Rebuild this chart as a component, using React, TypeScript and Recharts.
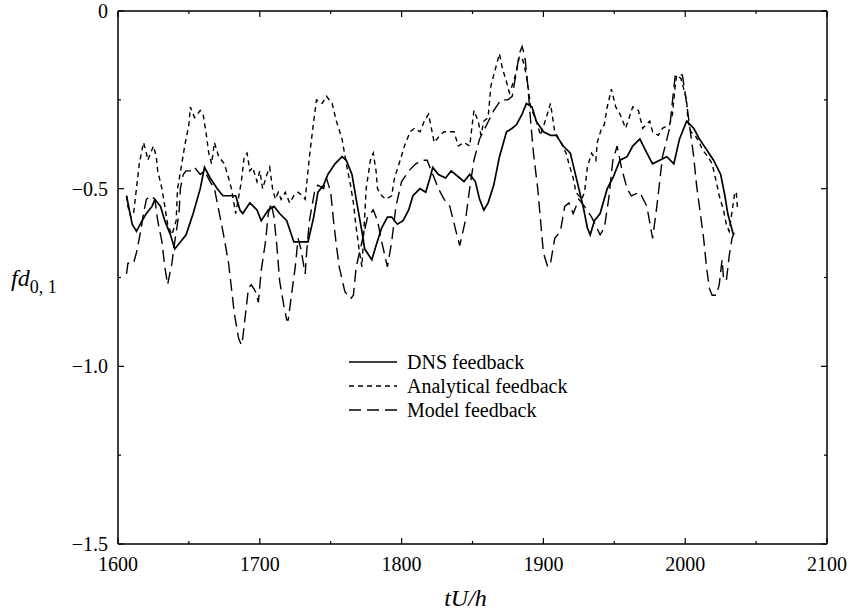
import { LineChart, Line, XAxis, YAxis, Label } from "recharts";

// feedback histories as [tU/h, fd_{0,1}] pairs
const dnsFeedback: [number, number][] = [
  [1606, -0.52], [1610, -0.6], [1613, -0.62], [1617, -0.59], [1620, -0.57], [1624, -0.55],
  [1626, -0.53], [1630, -0.55], [1633, -0.59], [1637, -0.63], [1640, -0.67], [1644, -0.65],
  [1648, -0.63], [1653, -0.57], [1658, -0.5], [1661, -0.44], [1665, -0.47], [1670, -0.5],
  [1674, -0.52], [1679, -0.52], [1683, -0.52], [1686, -0.56], [1688, -0.57], [1693, -0.54],
  [1698, -0.56], [1701, -0.59], [1706, -0.56], [1710, -0.55], [1714, -0.57], [1719, -0.59],
  [1724, -0.65], [1728, -0.65], [1734, -0.65], [1738, -0.58], [1741, -0.51], [1745, -0.49],
  [1748, -0.46], [1753, -0.43], [1758, -0.41], [1761, -0.42], [1765, -0.46], [1768, -0.53],
  [1772, -0.62], [1774, -0.67], [1779, -0.7], [1782, -0.66], [1786, -0.61], [1790, -0.58],
  [1793, -0.58], [1797, -0.6], [1801, -0.59], [1805, -0.56], [1808, -0.52], [1813, -0.5],
  [1817, -0.51], [1820, -0.47], [1822, -0.44], [1826, -0.46], [1831, -0.47], [1835, -0.45],
  [1841, -0.47], [1844, -0.48], [1848, -0.46], [1852, -0.48], [1855, -0.53], [1858, -0.56],
  [1861, -0.54], [1865, -0.49], [1869, -0.41], [1874, -0.34], [1878, -0.33], [1881, -0.32],
  [1885, -0.29], [1888, -0.26], [1892, -0.27], [1895, -0.31], [1900, -0.34], [1905, -0.35],
  [1909, -0.35], [1914, -0.38], [1919, -0.4], [1922, -0.45], [1925, -0.5], [1928, -0.55],
  [1931, -0.61], [1933, -0.63], [1936, -0.59], [1940, -0.57], [1945, -0.5], [1949, -0.47],
  [1954, -0.42], [1959, -0.41], [1963, -0.38], [1968, -0.36], [1973, -0.4], [1977, -0.43],
  [1982, -0.42], [1987, -0.41], [1992, -0.43], [1996, -0.36], [2001, -0.31], [2006, -0.33],
  [2010, -0.36], [2015, -0.39], [2020, -0.42], [2025, -0.46], [2028, -0.52], [2030, -0.57],
  [2034, -0.63],
];

const analyticalFeedback: [number, number][] = [
  [1606, -0.52], [1607, -0.55], [1609, -0.58], [1611, -0.57], [1613, -0.5], [1615, -0.43],
  [1618, -0.37], [1620, -0.4], [1621, -0.42], [1623, -0.4], [1625, -0.38], [1627, -0.41],
  [1628, -0.45], [1631, -0.5], [1633, -0.55], [1635, -0.6], [1638, -0.63], [1641, -0.59],
  [1642, -0.5], [1645, -0.43], [1647, -0.38], [1650, -0.32], [1651, -0.27], [1654, -0.3],
  [1658, -0.28], [1660, -0.29], [1662, -0.34], [1664, -0.4], [1666, -0.43], [1668, -0.37],
  [1671, -0.41], [1673, -0.42], [1675, -0.43], [1678, -0.47], [1680, -0.5], [1683, -0.57],
  [1687, -0.48], [1689, -0.41], [1691, -0.4], [1693, -0.45], [1695, -0.44], [1698, -0.48],
  [1700, -0.45], [1702, -0.5], [1705, -0.46], [1707, -0.44], [1709, -0.5], [1711, -0.53],
  [1713, -0.51], [1715, -0.53], [1718, -0.51], [1721, -0.54], [1724, -0.52], [1727, -0.51],
  [1730, -0.52], [1732, -0.53], [1735, -0.41], [1738, -0.31], [1740, -0.25], [1744, -0.26],
  [1747, -0.24], [1751, -0.26], [1754, -0.31], [1758, -0.36], [1761, -0.43], [1764, -0.49],
  [1766, -0.54], [1768, -0.61], [1770, -0.67], [1772, -0.72], [1773, -0.65], [1775, -0.5],
  [1778, -0.42], [1780, -0.4], [1782, -0.45], [1783, -0.5], [1786, -0.52], [1789, -0.53],
  [1793, -0.52], [1795, -0.47], [1799, -0.42], [1802, -0.38], [1806, -0.34], [1809, -0.33],
  [1813, -0.34], [1816, -0.31], [1819, -0.29], [1821, -0.33], [1823, -0.37], [1827, -0.35],
  [1830, -0.34], [1834, -0.34], [1837, -0.34], [1840, -0.38], [1844, -0.37], [1848, -0.38],
  [1851, -0.28], [1854, -0.31], [1856, -0.35], [1858, -0.31], [1861, -0.3], [1863, -0.21],
  [1867, -0.15], [1869, -0.12], [1871, -0.16], [1874, -0.2], [1876, -0.23], [1878, -0.21],
  [1881, -0.17], [1883, -0.13], [1885, -0.13], [1888, -0.18], [1891, -0.27], [1895, -0.31],
  [1898, -0.35], [1902, -0.3], [1905, -0.26], [1908, -0.34], [1911, -0.36], [1916, -0.4],
  [1918, -0.43], [1921, -0.47], [1923, -0.51], [1927, -0.53], [1929, -0.51], [1931, -0.44],
  [1934, -0.4], [1937, -0.42], [1938, -0.37], [1941, -0.33], [1943, -0.32], [1945, -0.27],
  [1948, -0.22], [1951, -0.27], [1954, -0.29], [1958, -0.33], [1963, -0.27], [1967, -0.28],
  [1970, -0.33], [1975, -0.31], [1977, -0.34], [1981, -0.35], [1984, -0.33], [1989, -0.32],
  [1991, -0.29], [1993, -0.21], [1994, -0.18], [1997, -0.19], [2001, -0.25], [2002, -0.31],
  [2004, -0.34], [2007, -0.35], [2010, -0.37], [2012, -0.39], [2016, -0.41], [2019, -0.43],
  [2023, -0.5], [2024, -0.52], [2027, -0.56], [2029, -0.6], [2031, -0.62], [2035, -0.51],
  [2036, -0.51], [2037, -0.56],
];

const modelFeedback: [number, number][] = [
  [1606, -0.74], [1607, -0.71], [1611, -0.71], [1613, -0.68], [1616, -0.62], [1618, -0.57],
  [1620, -0.53], [1623, -0.52], [1626, -0.53], [1628, -0.59], [1631, -0.65], [1633, -0.72],
  [1635, -0.77], [1638, -0.71], [1640, -0.65], [1643, -0.57], [1644, -0.5], [1646, -0.46],
  [1648, -0.45], [1652, -0.45], [1654, -0.44], [1658, -0.46], [1661, -0.45], [1665, -0.48],
  [1668, -0.5], [1674, -0.62], [1678, -0.71], [1680, -0.78], [1682, -0.85], [1685, -0.92],
  [1687, -0.94], [1688, -0.92], [1690, -0.85], [1692, -0.78], [1694, -0.77], [1697, -0.79],
  [1699, -0.82], [1701, -0.73], [1704, -0.65], [1706, -0.57], [1708, -0.54], [1710, -0.58],
  [1712, -0.66], [1714, -0.76], [1717, -0.83], [1719, -0.87], [1720, -0.87], [1722, -0.81],
  [1725, -0.72], [1727, -0.64], [1729, -0.67], [1732, -0.74], [1733, -0.68], [1735, -0.59],
  [1739, -0.5], [1741, -0.49], [1745, -0.5], [1747, -0.47], [1750, -0.51], [1752, -0.59],
  [1754, -0.66], [1756, -0.72], [1760, -0.79], [1764, -0.81], [1766, -0.8], [1768, -0.72],
  [1772, -0.65], [1776, -0.58], [1780, -0.56], [1783, -0.59], [1786, -0.65], [1790, -0.72],
  [1793, -0.65], [1796, -0.55], [1800, -0.48], [1805, -0.45], [1810, -0.43], [1815, -0.42],
  [1818, -0.42], [1821, -0.45], [1826, -0.5], [1830, -0.53], [1834, -0.55], [1839, -0.63],
  [1841, -0.66], [1845, -0.59], [1848, -0.5], [1851, -0.42], [1855, -0.36], [1860, -0.32],
  [1865, -0.28], [1870, -0.25], [1875, -0.25], [1878, -0.24], [1881, -0.17], [1883, -0.12],
  [1885, -0.1], [1887, -0.13], [1889, -0.21], [1891, -0.31], [1893, -0.4], [1896, -0.5],
  [1898, -0.59], [1900, -0.68], [1903, -0.72], [1905, -0.71], [1908, -0.64], [1912, -0.62],
  [1915, -0.55], [1918, -0.54], [1921, -0.57], [1925, -0.53], [1929, -0.55], [1934, -0.58],
  [1940, -0.63], [1943, -0.61], [1946, -0.53], [1949, -0.42], [1952, -0.38], [1955, -0.44],
  [1959, -0.5], [1962, -0.52], [1968, -0.51], [1973, -0.55], [1977, -0.64], [1980, -0.55],
  [1984, -0.41], [1989, -0.33], [1993, -0.18], [1998, -0.18], [2001, -0.26], [2004, -0.35],
  [2006, -0.41], [2008, -0.49], [2010, -0.55], [2013, -0.64], [2015, -0.72], [2017, -0.78],
  [2019, -0.8], [2022, -0.8], [2024, -0.77], [2026, -0.7], [2027, -0.75], [2029, -0.76],
  [2031, -0.69], [2033, -0.64], [2035, -0.62],
];

const xTicks = [1600, 1650, 1700, 1750, 1800, 1850, 1900, 1950, 2000, 2050, 2100];
const yTicks = [-1.5, -1.25, -1, -0.75, -0.5, -0.25, 0];

// the model series is tied to the top/right axes so the frame draws on all four sides
const series = [
  { name: "DNS feedback", points: dnsFeedback, dash: undefined, width: 1.7, xId: "b", yId: "l" },
  { name: "Analytical feedback", points: analyticalFeedback, dash: "5 4", width: 1.4, xId: "b", yId: "l" },
  { name: "Model feedback", points: modelFeedback, dash: "12 6", width: 1.4, xId: "t", yId: "r" },
];

const FONT = '"Liberation Serif", "Times New Roman", Times, serif';

const toRows = (pts: [number, number][]) => pts.map(([t, v]) => ({ t, v }));

const fmtY = (v: number) => (v === 0 ? "0" : "\u2212" + Math.abs(v).toFixed(1));

function BottomTick({ x, y, payload }: any) {
  const major = payload.value % 100 === 0;
  return (
    <g>
      <line x1={x} x2={x} y1={y} y2={y - (major ? 6 : 3)} stroke="#000" strokeWidth={1.2} />
      {major && (
        <text x={x} y={y + 27} textAnchor="middle" fontFamily={FONT} fontSize={20} fill="#000">
          {payload.value}
        </text>
      )}
    </g>
  );
}

function TopTick({ x, y, payload }: any) {
  const major = payload.value % 100 === 0;
  return <line x1={x} x2={x} y1={y} y2={y + (major ? 6 : 3)} stroke="#000" strokeWidth={1.2} />;
}

function LeftTick({ x, y, payload }: any) {
  const major = Number.isInteger(payload.value * 2);
  return (
    <g>
      <line x1={x} x2={x + (major ? 6 : 3)} y1={y} y2={y} stroke="#000" strokeWidth={1.2} />
      {major && (
        <text x={x - 10} y={y + 7} textAnchor="end" fontFamily={FONT} fontSize={20} fill="#000">
          {fmtY(payload.value)}
        </text>
      )}
    </g>
  );
}

function RightTick({ x, y, payload }: any) {
  const major = Number.isInteger(payload.value * 2);
  return <line x1={x} x2={x - (major ? 6 : 3)} y1={y} y2={y} stroke="#000" strokeWidth={1.2} />;
}

function XTitle({ viewBox }: any) {
  const cx = viewBox.x + viewBox.width / 2 - 7;
  return (
    <text x={cx} y={viewBox.y + 62} textAnchor="middle" fontFamily={FONT} fontSize={24} fontStyle="italic" fill="#000">
      tU/h
    </text>
  );
}

function YTitle({ viewBox }: any) {
  const cy = viewBox.y + viewBox.height / 2;
  return (
    <text x={viewBox.x + 11} y={cy + 8} fontFamily={FONT} fontSize={24} fill="#000">
      <tspan fontStyle="italic">fd</tspan>
      <tspan fontSize={18} dy={7}>0, 1</tspan>
    </text>
  );
}

function FeedbackLegend() {
  return (
    <div
      style={{
        position: "absolute",
        left: 348,
        top: 350,
        fontFamily: FONT,
        fontSize: 20,
        color: "#000",
        lineHeight: "24px",
      }}
    >
      {series.map((s) => (
        <div key={s.name} style={{ display: "flex", alignItems: "center", height: 24 }}>
          <svg width={50} height={10} style={{ marginRight: 9 }}>
            <line x1={1} x2={49} y1={5} y2={5} stroke="#000" strokeWidth={s.width} strokeDasharray={s.dash} />
          </svg>
          <span>{s.name}</span>
        </div>
      ))}
    </div>
  );
}

const axisLine = { stroke: "#000", strokeWidth: 1.5 };

export default function App() {
  return (
    <div style={{ position: "absolute", left: 0, top: 0, width: 852, height: 614, background: "#fff" }}>
      <LineChart width={852} height={614} margin={{ top: 10, right: 24, bottom: 20, left: 0 }}>
        <XAxis
          xAxisId="b"
          dataKey="t"
          type="number"
          domain={[1600, 2100]}
          ticks={xTicks}
          interval={0}
          allowDataOverflow
          height={50}
          tickSize={0}
          tickMargin={0}
          tickLine={false}
          tick={<BottomTick />}
          axisLine={axisLine}
        >
          <Label content={<XTitle />} />
        </XAxis>
        <XAxis
          xAxisId="t"
          orientation="top"
          dataKey="t"
          type="number"
          domain={[1600, 2100]}
          ticks={xTicks}
          interval={0}
          allowDataOverflow
          height={1}
          tickSize={0}
          tickMargin={0}
          tickLine={false}
          tick={<TopTick />}
          axisLine={axisLine}
        />
        <YAxis
          yAxisId="l"
          type="number"
          domain={[-1.5, 0]}
          ticks={yTicks}
          interval={0}
          allowDataOverflow
          width={118}
          tickSize={0}
          tickMargin={0}
          tickLine={false}
          tick={<LeftTick />}
          axisLine={axisLine}
        >
          <Label content={<YTitle />} />
        </YAxis>
        <YAxis
          yAxisId="r"
          orientation="right"
          type="number"
          domain={[-1.5, 0]}
          ticks={yTicks}
          interval={0}
          allowDataOverflow
          width={1}
          tickSize={0}
          tickMargin={0}
          tickLine={false}
          tick={<RightTick />}
          axisLine={axisLine}
        />
        {series.map((s) => (
          <Line
            key={s.name}
            xAxisId={s.xId}
            yAxisId={s.yId}
            data={toRows(s.points)}
            dataKey="v"
            name={s.name}
            type="linear"
            stroke="#000"
            strokeWidth={s.width}
            strokeDasharray={s.dash}
            dot={false}
            activeDot={false}
            isAnimationActive={false}
          />
        ))}
      </LineChart>
      <FeedbackLegend />
    </div>
  );
}
